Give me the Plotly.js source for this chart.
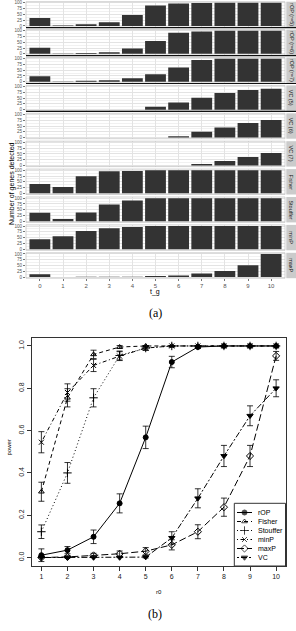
<!DOCTYPE html>
<html><head><meta charset="utf-8">
<script src="https://cdn.plot.ly/plotly-3.0.1.min.js"></script>
<style>html,body{margin:0;padding:0;background:#fff;}#chart{width:296px;height:631px;}</style>
</head><body><div id="chart"></div>
<script>
// ---------- Panel (a) data ----------
const tg = [0,1,2,3,4,5,6,7,8,9,10];
const facetLabels = ["rOP (r=5)","rOP (r=6)","rOP (r=7)","VC (5)","VC (6)","VC (7)","Fisher","Stouffer","minP","maxP"];
const rOP_r5 = [34, 1.5, 7, 16, 47, 89, 97, 99, 100, 100, 100];
const rOP_r6 = [26, 1.5, 4, 7, 23, 56, 91, 97, 100, 100, 100];
const rOP_r7 = [24, 1, 4, 6, 15, 32, 62, 94, 100, 100, 100];
const VC_5 = [0, 0, 0, 0, 0, 12, 31, 52, 72, 85, 91];
const VC_6 = [0, 0, 0, 0, 0, 0, 6, 25, 44, 63, 76];
const VC_7 = [0, 0, 0, 0, 0, 0, 0, 6, 19, 37, 54];
const Fisher_a = [41, 28, 74, 96, 97, 100, 100, 100, 100, 100, 100];
const Stouffer_a = [37, 10, 38, 73, 90, 100, 100, 100, 100, 100, 100];
const minP_a = [43, 56, 79, 91, 96, 100, 100, 100, 100, 100, 100];
const maxP_a = [12, 0, 1, 1, 1, 4, 7, 15, 26, 51, 100];
const facetValues = [rOP_r5, rOP_r6, rOP_r7, VC_5, VC_6, VC_7, Fisher_a, Stouffer_a, minP_a, maxP_a];
const countTicks = [0, 25, 50, 75, 100];
const countMinor = [12.5, 37.5, 62.5, 87.5];

// ---------- Panel (b) data ----------
const r0 = [1,2,3,4,5,6,7,8,9,10];
const seriesNames = ["rOP","Fisher","Stouffer","minP","maxP","VC"];
const pow_rOP      = [0.011, 0.035, 0.098, 0.256, 0.568, 0.924, 0.995, 1.0, 1.0, 1.0];
const pow_Fisher   = [0.311, 0.755, 0.960, 0.995, 1.0, 1.0, 1.0, 1.0, 1.0, 1.0];
const pow_Stouffer = [0.122, 0.400, 0.755, 0.955, 0.990, 1.0, 1.0, 1.0, 1.0, 1.0];
const pow_minP     = [0.545, 0.780, 0.908, 0.952, 0.990, 1.0, 1.0, 1.0, 1.0, 1.0];
const pow_maxP     = [0.0, 0.003, 0.010, 0.018, 0.030, 0.060, 0.122, 0.238, 0.480, 0.953];
const pow_VC       = [0.0, 0.0, 0.0, 0.0, 0.002, 0.093, 0.280, 0.480, 0.670, 0.800];
const err_rOP      = [0.030, 0.017, 0.032, 0.045, 0.053, 0.027, 0.007, null, null, null];
const err_Fisher   = [0.045, 0.043, 0.020, 0.007, null, null, null, null, null, null];
const err_Stouffer = [0.032, 0.049, 0.043, 0.021, 0.010, null, null, null, null, null];
const err_minP     = [0.050, 0.041, 0.029, 0.021, 0.010, null, null, null, null, null];
const err_maxP     = [null, 0.005, 0.010, 0.013, 0.017, 0.024, 0.033, 0.043, 0.050, 0.021];
const err_VC       = [null, null, null, null, 0.004, 0.029, 0.045, 0.050, 0.047, 0.040];
const powerTicks = [0, 0.2, 0.4, 0.6, 0.8, 1.0];
const powerTickText = ["0.0","0.2","0.4","0.6","0.8","1.0"];

// ---------- helpers ----------
const W = 296, H = 631;
const fx = p => p / W;
const fy = p => 1 - p / H;
const FONT = "Liberation Sans, Arial, sans-serif";

const traces = [];
const layout = {
  width: W, height: H,
  margin: {l:0, r:0, t:0, b:0},
  paper_bgcolor: "#fff", plot_bgcolor: "#fff",
  showlegend: false,
  font: {family: FONT, color: "#000"},
  shapes: [], annotations: []
};

// ---------- Panel (a) ----------
const facetTop0 = 1.7, facetPitch = 27.9, facetH = 25.4;
const xa0 = 26, xa1 = 285;
layout.xaxis = {
  domain: [fx(xa0), fx(xa1)], anchor: "y10", range: [-0.6, 10.6],
  tickvals: tg, ticktext: tg.map(String),
  showgrid: true, gridcolor: "#e3e3e3", gridwidth: 1,
  zeroline: false, showline: false,
  ticks: "outside", ticklen: 2, tickcolor: "#777",
  tickfont: {size: 6, color: "#555", family: FONT}, fixedrange: true
};
facetValues.forEach((vals, i) => {
  const top = facetTop0 + facetPitch * i, bot = top + facetH;
  const yName = i === 0 ? "yaxis" : "yaxis" + (i + 1);
  const yRef = i === 0 ? "y" : "y" + (i + 1);
  layout[yName] = {
    domain: [fy(bot), fy(top)], anchor: "x", range: [-5, 105],
    tickvals: countTicks, ticktext: countTicks.map(String),
    showgrid: true, gridcolor: "#e3e3e3", gridwidth: 1,
    minor: {tickvals: countMinor, showgrid: true, gridcolor: "#f1f1f1", gridwidth: 1, ticks: ""},
    zeroline: false, showline: false,
    ticks: "outside", ticklen: 2, tickcolor: "#777",
    tickfont: {size: 4.6, color: "#555", family: FONT}, fixedrange: true
  };
  traces.push({
    type: "bar", x: tg, y: vals, xaxis: "x", yaxis: yRef,
    width: 0.9, marker: {color: "#333333", line: {width: 0}},
    hoverinfo: "skip"
  });
  // panel border
  layout.shapes.push({type: "rect", xref: "paper", yref: "paper",
    x0: fx(xa0), x1: fx(xa1), y0: fy(bot), y1: fy(top),
    line: {color: "#bdbdbd", width: 0.7}, layer: "above"});
  if (i < 4) {
    layout.shapes.push({type: "line", xref: "paper", yref: "paper",
      x0: fx(xa0), x1: fx(W), y0: fy(bot + 0.6), y1: fy(bot + 0.6),
      line: {color: "#111", width: 1.2}, layer: "above"});
  }
  // strip
  layout.shapes.push({type: "rect", xref: "paper", yref: "paper",
    x0: fx(286.3), x1: fx(W), y0: fy(bot), y1: fy(top),
    fillcolor: "#cbcbcb", line: {width: 0}, layer: "below"});
  layout.annotations.push({xref: "paper", yref: "paper", x: fx(291.3), y: fy((top + bot) / 2),
    text: facetLabels[i], showarrow: false, textangle: 90,
    font: {size: 5.5, color: "#1a1a1a", family: FONT}, xanchor: "center", yanchor: "middle"});
});
layout.annotations.push({xref: "paper", yref: "paper", x: fx(155), y: fy(292),
  text: "t_g", showarrow: false, font: {size: 7, color: "#000", family: FONT}});
layout.annotations.push({xref: "paper", yref: "paper", x: fx(5.5), y: fy(140),
  text: "Number of genes detected", showarrow: false, textangle: -90,
  font: {size: 7, color: "#000", family: FONT}});
layout.annotations.push({xref: "paper", yref: "paper", x: fx(155), y: fy(313),
  text: "(a)", showarrow: false, font: {size: 12, color: "#000", family: "Liberation Serif, DejaVu Serif, serif"}});

// ---------- Panel (b) ----------
layout.xaxis2 = {
  domain: [fx(32), fx(285.5)], anchor: "y11", range: [0.64, 10.36],
  tickvals: r0, ticktext: r0.map(String),
  showgrid: false, zeroline: false, showline: true, mirror: true,
  linecolor: "#333", linewidth: 1,
  ticks: "outside", ticklen: 4, tickcolor: "#333",
  tickfont: {size: 7, color: "#222", family: FONT}, fixedrange: true
};
layout.yaxis11 = {
  domain: [fy(566), fy(337.5)], anchor: "x2", range: [-0.04, 1.04],
  tickvals: powerTicks, ticktext: powerTickText, tickangle: -90,
  showgrid: false, zeroline: false, showline: true, mirror: true,
  linecolor: "#333", linewidth: 1,
  ticks: "outside", ticklen: 4, tickcolor: "#333",
  tickfont: {size: 7, color: "#222", family: FONT}, fixedrange: true
};
const seriesY = [pow_rOP, pow_Fisher, pow_Stouffer, pow_minP, pow_maxP, pow_VC];
const seriesErr = [err_rOP, err_Fisher, err_Stouffer, err_minP, err_maxP, err_VC];
const seriesDash = ["solid", "4px,3px", "1px,2.5px", "1px,2.5px,4px,2.5px", "7px,3px", "2px,2px,6px,2px"];
const seriesSymbol = ["circle", "triangle-up-open", "cross-thin-open", "x-thin-open", "diamond-open", "triangle-down"];
const seriesSize = [5, 5, 6, 5, 5.5, 5.5];
seriesNames.forEach((nm, k) => {
  traces.push({
    type: "scatter", mode: "lines+markers", name: nm,
    x: r0, y: seriesY[k], xaxis: "x2", yaxis: "y11",
    line: {color: "#000", width: 1, dash: seriesDash[k]},
    marker: {symbol: seriesSymbol[k], size: seriesSize[k], color: "#000", line: {color: "#000", width: 1}},
    error_y: {type: "data", array: seriesErr[k], visible: true, color: "#000", thickness: 0.8, width: 3},
    hoverinfo: "skip"
  });
});
// manual legend
layout.xaxis3 = {domain: [fx(237), fx(252)], anchor: "y12", range: [0, 2], visible: false, fixedrange: true};
layout.yaxis12 = {domain: [fy(562), fy(508)], anchor: "x3", range: [5.5, -0.5], visible: false, fixedrange: true};
seriesNames.forEach((nm, k) => {
  traces.push({
    type: "scatter", mode: "lines+markers", xaxis: "x3", yaxis: "y12",
    x: [0, 1, 2], y: [k, k, k],
    line: {color: "#000", width: 1, dash: seriesDash[k]},
    marker: {symbol: seriesSymbol[k], size: [0, seriesSize[k], 0], color: "#000", line: {color: "#000", width: 1}},
    hoverinfo: "skip", cliponaxis: false
  });
  layout.annotations.push({xref: "x3", yref: "y12", x: 2, y: k, xshift: 4,
    text: nm, showarrow: false, xanchor: "left", yanchor: "middle",
    font: {size: 7, color: "#000", family: FONT}});
});
layout.shapes.push({type: "rect", xref: "paper", yref: "paper",
  x0: fx(234.3), x1: fx(285.5), y0: fy(566), y1: fy(503.3),
  line: {color: "#333", width: 1}, fillcolor: "rgba(255,255,255,1)", layer: "below"});
layout.annotations.push({xref: "paper", yref: "paper", x: fx(159), y: fy(597),
  text: "r0", showarrow: false, font: {size: 6, color: "#000", family: FONT}});
layout.annotations.push({xref: "paper", yref: "paper", x: fx(3.5), y: fy(458),
  text: "power", showarrow: false, textangle: -90, font: {size: 6, color: "#000", family: FONT}});
layout.annotations.push({xref: "paper", yref: "paper", x: fx(155), y: fy(623),
  text: "(b)", showarrow: false, font: {size: 12, color: "#000", family: "Liberation Serif, DejaVu Serif, serif"}});

Plotly.newPlot("chart", traces, layout, {staticPlot: true, displayModeBar: false});
</script>
</body></html>
